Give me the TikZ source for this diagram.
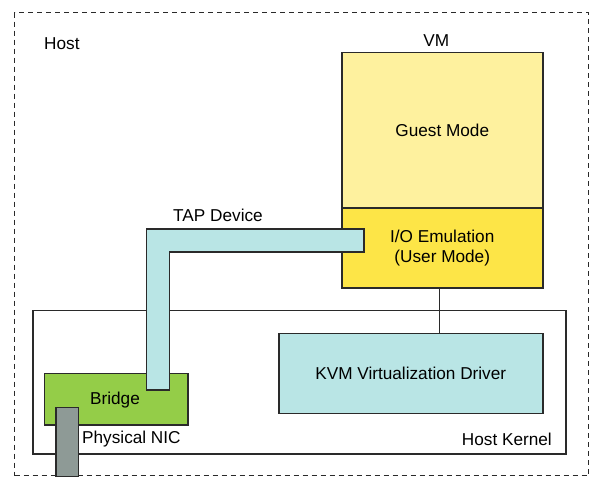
\documentclass[tikz,border=0pt]{standalone}
\usepackage{fontspec}
\setmainfont{Liberation Sans}
\usetikzlibrary{calc}
\definecolor{guestc}{HTML}{FEF19E}
\definecolor{ioc}{HTML}{FDE547}
\definecolor{cyanc}{HTML}{B9E5E5}
\definecolor{greenc}{HTML}{94CD48}
\definecolor{nicc}{HTML}{8E9A96}
\definecolor{linec}{HTML}{2A2A2A}
\tikzset{
  box/.style={draw=linec, line width=1.5pt, inner sep=0pt, anchor=north west},
  lbl/.style={inner sep=0pt, font=\fontsize{17.2}{20}\selectfont, align=center},
}
\begin{document}
\begin{tikzpicture}[x=1pt,y=-1pt]
\useasboundingbox (0,0) rectangle (598,487);
% host dashed box
\node[box, draw=linec, line width=1.2pt, dash pattern=on 5pt off 4pt, minimum width=574pt, minimum height=463pt] (host) at (14,12) {};
\node[lbl, anchor=west] (hostlbl) at (44,44) {Host};
% kernel box
\node[box, fill=white, minimum width=533pt, minimum height=143.5pt] (kernel) at (32,309.5) {};
\node[lbl, anchor=east] (kernellbl) at (552,439) {Host Kernel};
% VM
\node[box, fill=guestc, minimum width=201pt, minimum height=155pt] (guest) at (341,52) {};
\node[lbl] (guestlbl) at (guest.center) {Guest Mode};
\node[box, fill=ioc, minimum width=201pt, minimum height=80pt] (io) at (341,207) {};
\node[lbl] (iolbl) at (io.center) {I/O Emulation\\(User Mode)};
\node[lbl, anchor=south] (vmlbl) at ($(guest.north)+(-6,-5)$) {VM};
% KVM
\node[box, fill=cyanc, minimum width=264pt, minimum height=80pt] (kvm) at (278,332.5) {};
\node[lbl] (kvmlbl) at (kvm.center) {KVM Virtualization Driver};
\draw[linec, line width=1.5pt] ([xshift=-3pt]io.south) -- ([xshift=-3pt]io.south |- kvm.north);
% bridge
\node[box, fill=greenc, minimum width=143.5pt, minimum height=51.5pt] (bridge) at (43.5,372.5) {};
\node[lbl] (bridgelbl) at (115,400) {Bridge};
% TAP device
\draw[linec, line width=1.5pt, fill=cyanc] (146.7,229) -- (364,229) -- (364,252) -- (169.3,252) -- (169.3,390) -- (146.7,390) -- cycle;
\node[lbl] (taplbl) at (218,215) {TAP Device};
% NIC
\node[box, fill=nicc, minimum width=22.5pt, minimum height=69pt] (nic) at (55,406.5) {};
\node[lbl, anchor=west] (niclbl) at (82,439) {Physical NIC};
\end{tikzpicture}
\end{document}
